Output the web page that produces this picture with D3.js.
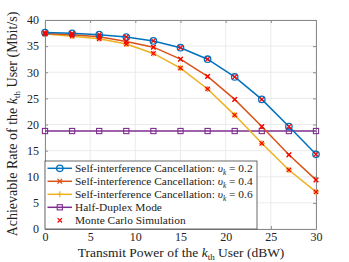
<!DOCTYPE html>
<html>
<head>
<meta charset="utf-8">
<script src="https://cdn.jsdelivr.net/npm/d3@7"></script>
<style>
  body { margin: 0; background: #fff; }
  text { font-family: "Liberation Serif", "DejaVu Serif", serif; fill: #222; }
</style>
</head>
<body>
<script>
const power = [0, 3, 6, 9, 12, 15, 18, 21, 24, 27, 30];
const rate02 = [37.6, 37.45, 37.2, 36.75, 36.0, 34.7, 32.5, 29.1, 24.8, 19.6, 14.3];
const rate04 = [37.4, 37.2, 36.8, 35.9, 34.8, 32.5, 29.2, 24.8, 19.6, 14.2, 9.4];
const rate06 = [37.3, 36.9, 36.4, 35.4, 33.6, 30.8, 26.8, 21.8, 16.4, 11.3, 7.1];
const rateHD = [18.75, 18.75, 18.75, 18.75, 18.75, 18.75, 18.75, 18.75, 18.75, 18.75, 18.75];
const xTicks = [0, 5, 10, 15, 20, 25, 30];
const yTicks = [0, 5, 10, 15, 20, 25, 30, 35, 40];

const series = [
  { name: "0.2", values: rate02, color: "#0072BD", marker: "circle" },
  { name: "0.4", values: rate04, color: "#D95319", marker: "x" },
  { name: "0.6", values: rate06, color: "#EDB120", marker: "plus" },
  { name: "hd", values: rateHD, color: "#7E2F8E", marker: "square" }
];

const width = 349, height = 262;
const pLeft = 45, pRight = 316, pTop = 20, pBottom = 229;

const svg = d3.select("body").append("svg")
  .attr("width", width)
  .attr("height", height);

const x = d3.scaleLinear().domain([0, 30]).range([pLeft, pRight]);
const y = d3.scaleLinear().domain([0, 40]).range([pBottom, pTop]);

// grid
svg.append("g").selectAll("line").data(xTicks).enter().append("line")
  .attr("x1", d => x(d)).attr("x2", d => x(d))
  .attr("y1", pTop).attr("y2", pBottom)
  .attr("stroke", "#e6e6e6").attr("stroke-width", 0.8);
svg.append("g").selectAll("line").data(yTicks).enter().append("line")
  .attr("x1", pLeft).attr("x2", pRight)
  .attr("y1", d => y(d)).attr("y2", d => y(d))
  .attr("stroke", "#e6e6e6").attr("stroke-width", 0.8);

// axes
svg.append("g").attr("transform", `translate(0,${pBottom})`)
  .call(d3.axisBottom(x).tickValues(xTicks).tickSizeInner(-3).tickSizeOuter(0).tickPadding(3));
svg.append("g").attr("transform", `translate(${pLeft},0)`)
  .call(d3.axisLeft(y).tickValues(yTicks).tickSizeInner(-3).tickSizeOuter(0).tickPadding(6));
svg.append("g").attr("transform", `translate(0,${pTop})`)
  .call(d3.axisTop(x).tickValues(xTicks).tickSizeInner(-3).tickSizeOuter(0).tickFormat(""));
svg.append("g").attr("transform", `translate(${pRight},0)`)
  .call(d3.axisRight(y).tickValues(yTicks).tickSizeInner(-3).tickSizeOuter(0).tickFormat(""));
svg.selectAll(".domain, .tick line").attr("stroke", "#8a8a8a");
svg.selectAll(".tick text").attr("font-size", 12).attr("fill", "#222")
  .style("font-family", "Liberation Serif, serif");

const line = d3.line().x((d, i) => x(power[i])).y(d => y(d));

function drawMarker(g, type, color, cx, cy) {
  if (type === "circle") {
    g.append("circle").attr("cx", cx).attr("cy", cy).attr("r", 3.2)
      .attr("fill", "none").attr("stroke", color).attr("stroke-width", 1.3);
  } else if (type === "square") {
    g.append("rect").attr("x", cx - 2.6).attr("y", cy - 2.6).attr("width", 5.2).attr("height", 5.2)
      .attr("fill", "none").attr("stroke", color).attr("stroke-width", 1.1);
  } else if (type === "x") {
    g.append("path").attr("d", `M${cx - 2.3},${cy - 2.3}L${cx + 2.3},${cy + 2.3}M${cx - 2.3},${cy + 2.3}L${cx + 2.3},${cy - 2.3}`)
      .attr("stroke", color).attr("stroke-width", 1.3);
  } else if (type === "plus") {
    g.append("path").attr("d", `M${cx - 3},${cy}L${cx + 3},${cy}M${cx},${cy - 3}L${cx},${cy + 3}`)
      .attr("stroke", color).attr("stroke-width", 1.2);
  } else if (type === "mc") {
    g.append("path").attr("d", `M${cx - 2.2},${cy - 2.2}L${cx + 2.2},${cy + 2.2}M${cx - 2.2},${cy + 2.2}L${cx + 2.2},${cy - 2.2}`)
      .attr("stroke", "#ff0000").attr("stroke-width", 1.2);
  }
}

const plot = svg.append("g");
// half duplex first, then the others on top
[series[3], series[2], series[1], series[0]].forEach(s => {
  plot.append("path").datum(s.values)
    .attr("d", line).attr("fill", "none")
    .attr("stroke", s.color).attr("stroke-width", 1.5);
  s.values.forEach((v, i) => drawMarker(plot, s.marker, s.color, x(power[i]), y(v)));
});
// Monte Carlo points
[rate02, rate04, rate06].forEach(vals => {
  vals.forEach((v, i) => drawMarker(plot, "mc", "red", x(power[i]), y(v)));
});

// legend
const lgY = 161, lgW = 212, lgH = pBottom - 161;
const legend = svg.append("g");
legend.append("rect").attr("x", pLeft).attr("y", lgY).attr("width", lgW).attr("height", lgH)
  .attr("fill", "#fff").attr("stroke", "#444").attr("stroke-width", 0.8);

const legendItems = [
  { s: series[0], label: "0.2" },
  { s: series[1], label: "0.4" },
  { s: series[2], label: "0.6" },
  { s: series[3], label: null, text: "Half-Duplex Mode" },
  { s: null, text: "Monte Carlo Simulation" }
];
const texts = [];
legendItems.forEach((it, i) => {
  const cy = 168.3 + i * 13;
  if (it.s) {
    legend.append("line").attr("x1", 47.5).attr("x2", 72).attr("y1", cy).attr("y2", cy)
      .attr("stroke", it.s.color).attr("stroke-width", 1.5);
    drawMarker(legend, it.s.marker, it.s.color, 59.8, cy);
  } else {
    drawMarker(legend, "mc", "red", 59.8, cy);
  }
  const t = legend.append("text").attr("x", 75).attr("y", cy + 4).attr("font-size", 11.5);
  if (it.label) {
    t.append("tspan").text("Self-interference Cancellation: ");
    t.append("tspan").attr("font-style", "italic").text("υ");
    t.append("tspan").attr("font-size", "0.65em").attr("dy", 2.5).attr("font-style", "italic").text("k");
    t.append("tspan").attr("dy", -2.5).text(" = " + it.label);
  } else {
    t.text(it.text);
  }
  texts.push(t);
});
// fit the longest entry to the legend box width, same size for all rows
const w0 = texts[0].node().getComputedTextLength();
const fs = w0 > 178 ? 11.5 * 178 / w0 : 11.5;
texts.forEach(t => t.attr("font-size", fs));

// axis labels
const xl = svg.append("text").attr("x", 181).attr("y", 257).attr("text-anchor", "middle").attr("font-size", 13.5);
xl.append("tspan").text("Transmit Power of the ");
xl.append("tspan").attr("font-style", "italic").text("k");
xl.append("tspan").attr("font-size", 9).attr("dy", 2.5).text("th");
xl.append("tspan").attr("dy", -2.5).text(" User (dBW)");

const yl = svg.append("text").attr("transform", "translate(17,124) rotate(-90)")
  .attr("text-anchor", "middle").attr("font-size", 14);
yl.append("tspan").text("Achievable Rate of the ");
yl.append("tspan").attr("font-style", "italic").text("k");
yl.append("tspan").attr("font-size", 9).attr("dy", 3).text("th");
yl.append("tspan").attr("dy", -3).text(" User (Mbit/s)");
</script>
</body>
</html>
